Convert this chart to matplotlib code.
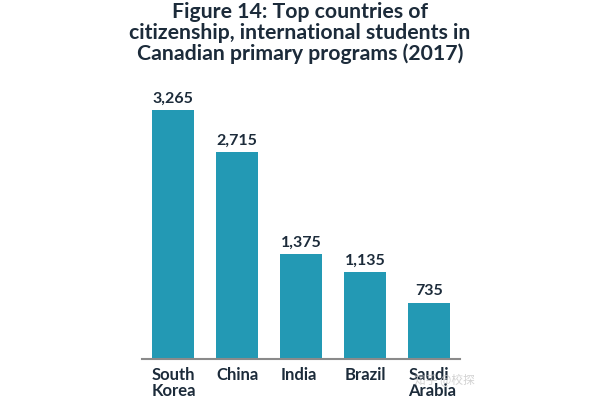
import matplotlib.pyplot as plt

countries = ["South\nKorea", "China", "India", "Brazil", "Saudi\nArabia"]
students = [3265, 2715, 1375, 1135, 735]

bar_color = "#2399b4"
text_color = "#1c2b3a"

fig = plt.figure(figsize=(6, 4), dpi=100)
ax = fig.add_axes([142 / 600, 41 / 400, 318 / 600, 269 / 400])

xs = range(len(countries))
bars = ax.bar(xs, students, width=0.656, color=bar_color)
ax.set_xlim(-0.484, len(countries) - 1 + 0.477)
ax.set_ylim(0, 3527)

for b, v in zip(bars, students):
    ax.text(b.get_x() + b.get_width() / 2, v + 60, f"{v:,}", ha="center", va="bottom",
            fontsize=11.5, fontweight="bold", color=text_color, family="Lato")

for b, name in zip(bars, countries):
    ax.text(b.get_x(), -105, name, ha="left", va="top", fontsize=12, fontweight="bold",
            color=text_color, family="Lato", linespacing=1.0)

for s in ["top", "right", "left"]:
    ax.spines[s].set_visible(False)
ax.spines["bottom"].set_color("#8a8a8a")
ax.spines["bottom"].set_linewidth(1.5)
ax.set_xticks([])
ax.set_yticks([])

fig.text(0.5, 0.995, "Figure 14: Top countries of\ncitizenship, international students in\nCanadian primary programs (2017)",
         ha="center", va="top", fontsize=15.3, fontweight="bold", color=text_color,
         family="Lato", linespacing=1.05)

# faint watermark in the corner
fig.text(0.69, 0.04, "知乎 @校探", fontsize=8.5, color="#c8c8c8", alpha=0.8,
         family=["Noto Sans CJK SC", "DejaVu Sans"])

fig.savefig("out.png", dpi=100)
